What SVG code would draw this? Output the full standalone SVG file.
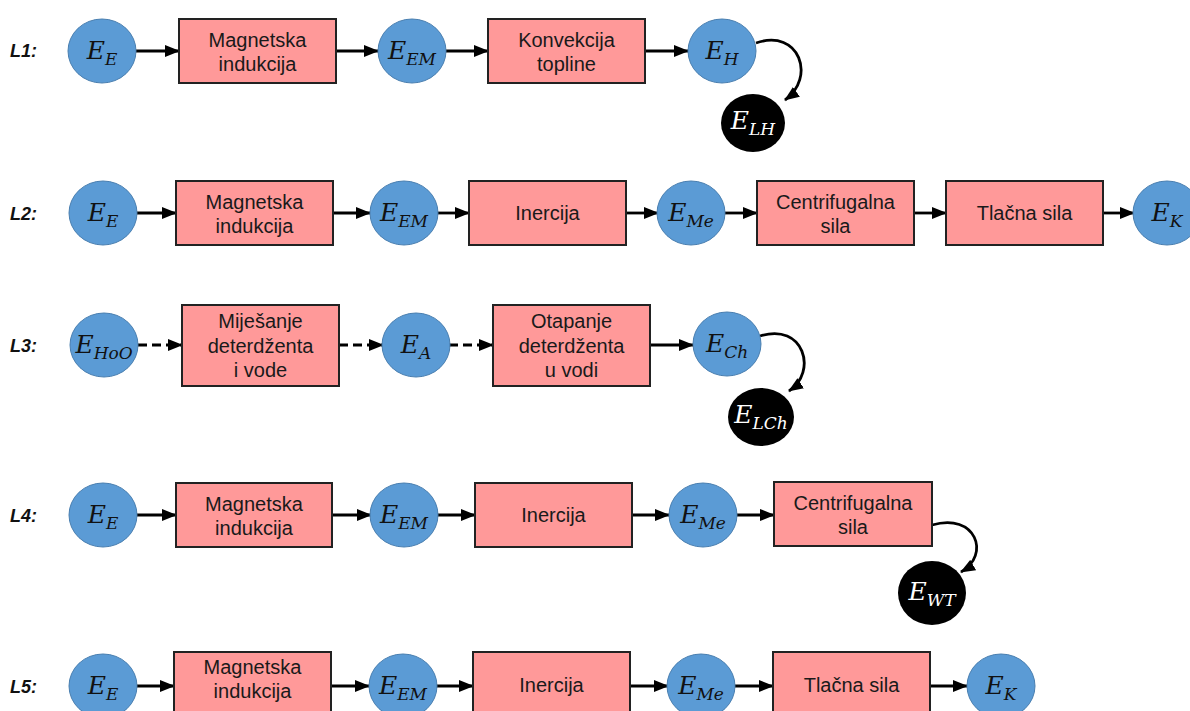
<svg xmlns="http://www.w3.org/2000/svg" width="1190" height="711" viewBox="0 0 1190 711">
<style>
.bg{fill:#ffffff}
.box{fill:#ff9999;stroke:#222222;stroke-width:2}
.bt{font-family:"Liberation Sans",Arial,sans-serif;font-size:20px;fill:#1a1a1a;text-anchor:middle}
.en{fill:#5b9bd5;stroke:#4a7fb0;stroke-width:1}
.loss{fill:#000000}
.m{font-family:"DejaVu Serif","Liberation Serif",serif;font-style:italic;font-size:25px;fill:#111111;text-anchor:middle}
.mw{font-family:"DejaVu Serif","Liberation Serif",serif;font-style:italic;font-size:25px;fill:#ffffff;text-anchor:middle}
.sub{font-size:17px}
.lab{font-family:"Liberation Sans",Arial,sans-serif;font-size:18px;font-weight:bold;font-style:italic;fill:#111111}
.c{stroke:#000000;stroke-width:2.8;fill:none;marker-end:url(#ah)}
.d{stroke-dasharray:9 5}
</style>
<defs>
<marker id="ah" markerWidth="15" markerHeight="12" refX="14" refY="6" orient="auto" markerUnits="userSpaceOnUse">
<path d="M0,0 L15,6 L0,12 Z" fill="#000000"/>
</marker>
</defs>
<rect class="bg" x="0" y="0" width="1190" height="711"/>

<g id="labels">
<text class="lab" x="10" y="57">L1:</text>
<text class="lab" x="10" y="220">L2:</text>
<text class="lab" x="10" y="352">L3:</text>
<text class="lab" x="10" y="522">L4:</text>
<text class="lab" x="10" y="693">L5:</text>
</g>

<g id="connectors">
<!-- L1 -->
<line class="c" x1="136" y1="51" x2="179" y2="51"/>
<line class="c" x1="336" y1="51" x2="378" y2="51"/>
<line class="c" x1="446" y1="51" x2="488" y2="51"/>
<line class="c" x1="645" y1="51" x2="688" y2="51"/>
<path class="c" d="M756,43 C800,28 816,78 785,100"/>
<!-- L2 -->
<line class="c" x1="137" y1="213" x2="176" y2="213"/>
<line class="c" x1="333" y1="213" x2="370" y2="213"/>
<line class="c" x1="437" y1="213" x2="469" y2="213"/>
<line class="c" x1="626" y1="213" x2="658" y2="213"/>
<line class="c" x1="725" y1="213" x2="757" y2="213"/>
<line class="c" x1="914" y1="213" x2="946" y2="213"/>
<line class="c" x1="1103" y1="213" x2="1134" y2="213"/>
<!-- L3 -->
<line class="c d" x1="138" y1="345" x2="182" y2="345"/>
<line class="c d" x1="339" y1="345" x2="383" y2="345"/>
<line class="c d" x1="449" y1="345" x2="493" y2="345"/>
<line class="c" x1="650" y1="345" x2="693" y2="345"/>
<path class="c" d="M760,336 C804,322 818,372 789,391"/>
<!-- L4 -->
<line class="c" x1="137" y1="515" x2="176" y2="515"/>
<line class="c" x1="332" y1="515" x2="371" y2="515"/>
<line class="c" x1="437" y1="515" x2="475" y2="515"/>
<line class="c" x1="632" y1="515" x2="669" y2="515"/>
<line class="c" x1="737" y1="515" x2="774" y2="515"/>
<path class="c" d="M932,525 C976,512 991,555 961,572"/>
<!-- L5 -->
<line class="c" x1="137" y1="686" x2="174" y2="686"/>
<line class="c" x1="331" y1="686" x2="369" y2="686"/>
<line class="c" x1="436" y1="686" x2="473" y2="686"/>
<line class="c" x1="630" y1="686" x2="668" y2="686"/>
<line class="c" x1="735" y1="686" x2="773" y2="686"/>
<line class="c" x1="930" y1="686" x2="967" y2="686"/>
</g>

<!-- L1 nodes -->
<g id="l1-ee"><ellipse class="en" cx="102" cy="51" rx="34" ry="32"/><text class="m" x="102" y="59">E<tspan class="sub" dy="6">E</tspan></text></g>
<g id="l1-mag"><rect class="box" x="179" y="19" width="157" height="64"/><text class="bt" x="257.5" y="47">Magnetska</text><text class="bt" x="257.5" y="71">indukcija</text></g>
<g id="l1-eem"><ellipse class="en" cx="412" cy="51" rx="34" ry="32"/><text class="m" x="412" y="59">E<tspan class="sub" dy="6">EM</tspan></text></g>
<g id="l1-konv"><rect class="box" x="488" y="19" width="157" height="64"/><text class="bt" x="566.5" y="47">Konvekcija</text><text class="bt" x="566.5" y="71">topline</text></g>
<g id="l1-eh"><ellipse class="en" cx="722" cy="51" rx="34" ry="32"/><text class="m" x="722" y="59">E<tspan class="sub" dy="6">H</tspan></text></g>
<g id="l1-elh"><ellipse class="loss" cx="753" cy="123" rx="32" ry="29"/><text class="mw" x="753" y="129">E<tspan class="sub" dy="6">LH</tspan></text></g>

<!-- L2 nodes -->
<g id="l2-ee"><ellipse class="en" cx="103" cy="213" rx="34" ry="32"/><text class="m" x="103" y="221">E<tspan class="sub" dy="6">E</tspan></text></g>
<g id="l2-mag"><rect class="box" x="176" y="181" width="157" height="64"/><text class="bt" x="254.5" y="209">Magnetska</text><text class="bt" x="254.5" y="233">indukcija</text></g>
<g id="l2-eem"><ellipse class="en" cx="404" cy="213" rx="34" ry="32"/><text class="m" x="404" y="221">E<tspan class="sub" dy="6">EM</tspan></text></g>
<g id="l2-iner"><rect class="box" x="469" y="181" width="157" height="64"/><text class="bt" x="547.5" y="220">Inercija</text></g>
<g id="l2-eme"><ellipse class="en" cx="691" cy="213" rx="34" ry="32"/><text class="m" x="691" y="221">E<tspan class="sub" dy="6">Me</tspan></text></g>
<g id="l2-cent"><rect class="box" x="757" y="181" width="157" height="64"/><text class="bt" x="835.5" y="209">Centrifugalna</text><text class="bt" x="835.5" y="233">sila</text></g>
<g id="l2-tlac"><rect class="box" x="946" y="181" width="157" height="64"/><text class="bt" x="1024.5" y="220">Tlačna sila</text></g>
<g id="l2-ek"><ellipse class="en" cx="1167" cy="213" rx="34" ry="32"/><text class="m" x="1167" y="221">E<tspan class="sub" dy="6">K</tspan></text></g>

<!-- L3 nodes -->
<g id="l3-eh2o"><ellipse class="en" cx="104" cy="345" rx="34" ry="32"/><text class="m" x="104" y="353">E<tspan class="sub" dy="6">HoO</tspan></text></g>
<g id="l3-mij"><rect class="box" x="182" y="305" width="157" height="81"/><text class="bt" x="260.5" y="328">Miješanje</text><text class="bt" x="260.5" y="353">deterdženta</text><text class="bt" x="260.5" y="377">i vode</text></g>
<g id="l3-ea"><ellipse class="en" cx="416" cy="345" rx="34" ry="32"/><text class="m" x="416" y="353">E<tspan class="sub" dy="6">A</tspan></text></g>
<g id="l3-otap"><rect class="box" x="493" y="305" width="157" height="81"/><text class="bt" x="571.5" y="328">Otapanje</text><text class="bt" x="571.5" y="353">deterdženta</text><text class="bt" x="571.5" y="377">u vodi</text></g>
<g id="l3-ech"><ellipse class="en" cx="727" cy="344" rx="34" ry="32"/><text class="m" x="727" y="352">E<tspan class="sub" dy="6">Ch</tspan></text></g>
<g id="l3-elch"><ellipse class="loss" cx="761" cy="417" rx="33" ry="29"/><text class="mw" x="761" y="423">E<tspan class="sub" dy="6">LCh</tspan></text></g>

<!-- L4 nodes -->
<g id="l4-ee"><ellipse class="en" cx="103" cy="515" rx="34" ry="32"/><text class="m" x="103" y="523">E<tspan class="sub" dy="6">E</tspan></text></g>
<g id="l4-mag"><rect class="box" x="176" y="483" width="156" height="64"/><text class="bt" x="254" y="511">Magnetska</text><text class="bt" x="254" y="535">indukcija</text></g>
<g id="l4-eem"><ellipse class="en" cx="404" cy="515" rx="34" ry="32"/><text class="m" x="404" y="523">E<tspan class="sub" dy="6">EM</tspan></text></g>
<g id="l4-iner"><rect class="box" x="475" y="483" width="157" height="64"/><text class="bt" x="553.5" y="522">Inercija</text></g>
<g id="l4-eme"><ellipse class="en" cx="703" cy="515" rx="34" ry="32"/><text class="m" x="703" y="523">E<tspan class="sub" dy="6">Me</tspan></text></g>
<g id="l4-cent"><rect class="box" x="774" y="482" width="158" height="64"/><text class="bt" x="853" y="510">Centrifugalna</text><text class="bt" x="853" y="534">sila</text></g>
<g id="l4-ewt"><ellipse class="loss" cx="932" cy="593" rx="34" ry="32"/><text class="mw" x="932" y="600">E<tspan class="sub" dy="6">WT</tspan></text></g>

<!-- L5 nodes -->
<g id="l5-ee"><ellipse class="en" cx="103" cy="686" rx="34" ry="32"/><text class="m" x="103" y="694">E<tspan class="sub" dy="6">E</tspan></text></g>
<g id="l5-mag"><rect class="box" x="174" y="652" width="157" height="64"/><text class="bt" x="252.5" y="674">Magnetska</text><text class="bt" x="252.5" y="698">indukcija</text></g>
<g id="l5-eem"><ellipse class="en" cx="403" cy="686" rx="34" ry="32"/><text class="m" x="403" y="694">E<tspan class="sub" dy="6">EM</tspan></text></g>
<g id="l5-iner"><rect class="box" x="473" y="652" width="157" height="64"/><text class="bt" x="551.5" y="692">Inercija</text></g>
<g id="l5-eme"><ellipse class="en" cx="701" cy="686" rx="34" ry="32"/><text class="m" x="701" y="694">E<tspan class="sub" dy="6">Me</tspan></text></g>
<g id="l5-tlac"><rect class="box" x="773" y="652" width="157" height="64"/><text class="bt" x="851.5" y="692">Tlačna sila</text></g>
<g id="l5-ek"><ellipse class="en" cx="1001" cy="686" rx="34" ry="32"/><text class="m" x="1001" y="694">E<tspan class="sub" dy="6">K</tspan></text></g>
</svg>
